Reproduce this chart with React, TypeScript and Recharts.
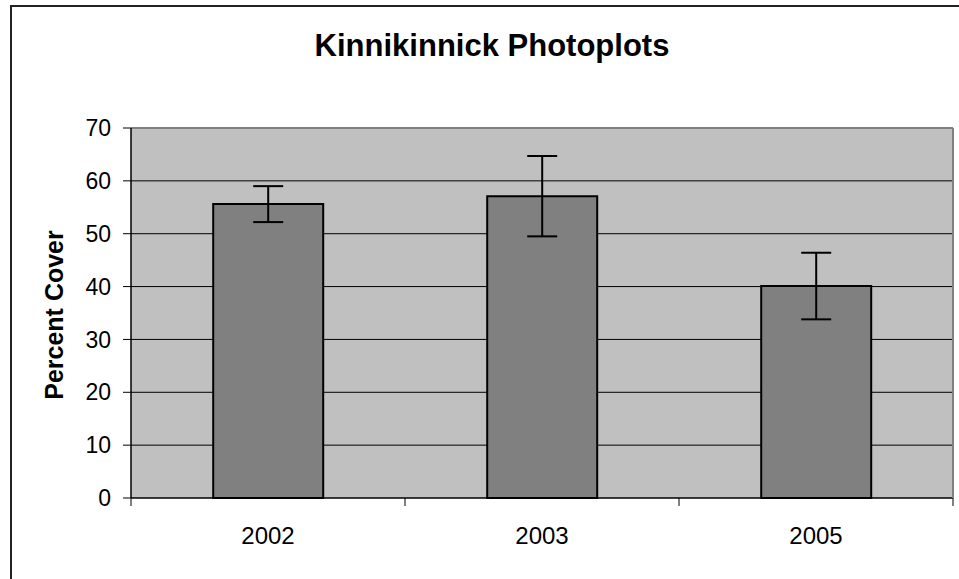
import { Bar, BarChart, CartesianGrid, ErrorBar, XAxis, YAxis } from "recharts"

const years = ["2002", "2003", "2005"]
const cover = [55.6, 57.1, 40.1]
const spread = [3.4, 7.6, 6.3]
const yTicks = [0, 10, 20, 30, 40, 50, 60, 70]

const data = years.map((year, i) => ({ year, cover: cover[i], err: spread[i] }))

const font = "'Liberation Sans', Arial, sans-serif"
const labelGap = 29

// Excel-style category ticks: marks sit on the band edges, labels in the middle
function YearTick(props: any) {
  const { x, y, payload, index, visibleTicksCount, width } = props
  const band = width / visibleTicksCount
  const axisY = y - labelGap
  return (
    <g>
      <line x1={x - band / 2} x2={x - band / 2} y1={axisY} y2={axisY + 8} stroke="#000" />
      {index === visibleTicksCount - 1 && (
        <line x1={x + band / 2} x2={x + band / 2} y1={axisY} y2={axisY + 8} stroke="#000" />
      )}
      <text x={x} y={y} dy="0.71em" textAnchor="middle" fill="#000" fontSize={24} fontFamily={font}>
        {payload.value}
      </text>
    </g>
  )
}

export default function App() {
  return (
    <div
      style={{
        position: "absolute",
        left: 0,
        top: 0,
        width: 959,
        height: 579,
        overflow: "hidden",
        background: "#fff",
        fontFamily: font,
      }}
    >
      <div
        style={{
          position: "absolute",
          left: 10,
          top: 5,
          width: 980,
          height: 600,
          border: "2px solid #222",
        }}
      />
      <div
        style={{
          position: "absolute",
          left: 0,
          top: 28,
          width: 984,
          textAlign: "center",
          fontSize: 31,
          fontWeight: "bold",
          lineHeight: "36px",
        }}
      >
        Kinnikinnick Photoplots
      </div>
      <div
        style={{
          position: "absolute",
          left: 54,
          top: 315,
          transform: "translate(-50%, -50%) rotate(-90deg)",
          fontSize: 25,
          fontWeight: "bold",
          whiteSpace: "nowrap",
        }}
      >
        Percent Cover
      </div>
      <div style={{ position: "absolute", left: 0, top: 0 }}>
        <BarChart
          width={959}
          height={579}
          data={data}
          margin={{ top: 127, right: 5, bottom: 80, left: 71 }}
          barCategoryGap="30%"
        >
          <CartesianGrid
            vertical={false}
            fill="#c0c0c0"
            fillOpacity={1}
            stroke="#000"
            horizontalValues={[10, 20, 30, 40, 50, 60]}
          />
          <XAxis
            dataKey="year"
            axisLine={{ stroke: "#000", strokeWidth: 1.5 }}
            tickLine={false}
            tickSize={0}
            tickMargin={labelGap}
            height={1}
            interval={0}
            tick={<YearTick />}
          />
          <XAxis
            xAxisId="top"
            orientation="top"
            dataKey="year"
            axisLine={{ stroke: "#808080", strokeWidth: 2 }}
            tick={false}
            tickLine={false}
            height={1}
          />
          <YAxis
            domain={[0, 70]}
            ticks={yTicks}
            interval={0}
            width={60}
            axisLine={{ stroke: "#000", strokeWidth: 1.5 }}
            tickLine={{ stroke: "#000" }}
            tickSize={8}
            tickMargin={12}
            tick={{ fill: "#000", fontSize: 23, fontFamily: font }}
          />
          <YAxis
            yAxisId="right"
            orientation="right"
            domain={[0, 70]}
            axisLine={{ stroke: "#808080", strokeWidth: 2 }}
            tick={false}
            tickLine={false}
            width={1}
          />
          <Bar
            dataKey="cover"
            fill="#808080"
            stroke="#000"
            strokeWidth={2}
            isAnimationActive={false}
          >
            <ErrorBar dataKey="err" width={15} stroke="#000" strokeWidth={2} isAnimationActive={false} />
          </Bar>
        </BarChart>
      </div>
    </div>
  )
}
